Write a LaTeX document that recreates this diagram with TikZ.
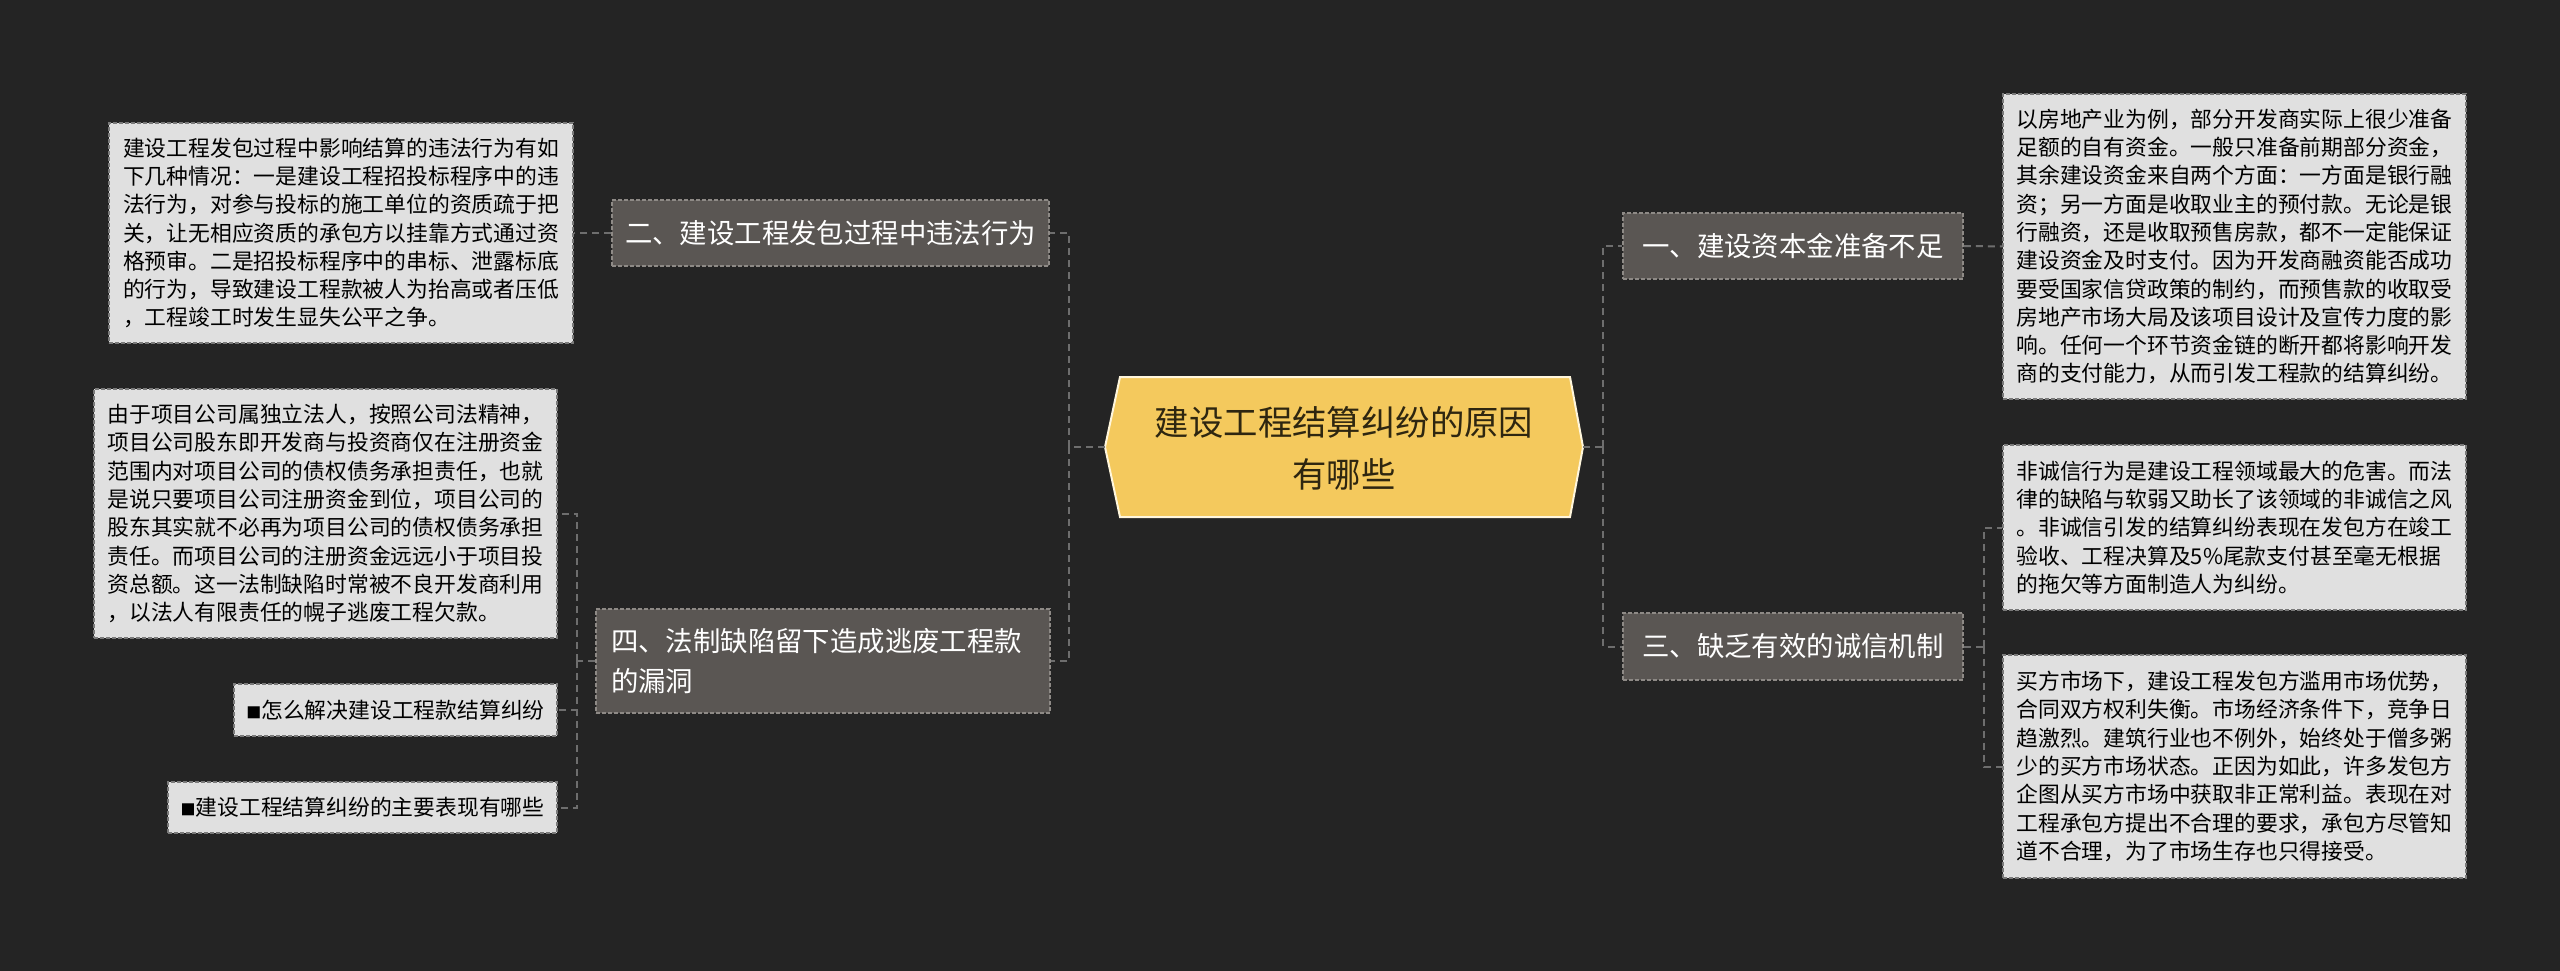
\documentclass[tikz,border=0pt]{standalone}
\usepackage{fontspec}
\newfontfamily\cjk{Noto Sans CJK SC}
\definecolor{bg}{HTML}{242424}
\definecolor{branchfill}{HTML}{5A5653}
\definecolor{branchline}{HTML}{8E8A86}
\definecolor{leaffill}{HTML}{E0E0E0}
\definecolor{leafline}{HTML}{7A7A7A}
\definecolor{conncol}{HTML}{6E6E6E}
\definecolor{centerfill}{HTML}{F4C95D}
\definecolor{centerline}{HTML}{FFF6DC}
\definecolor{centertext}{HTML}{2E2610}
\tikzset{
  leaf/.style={draw=leafline, fill=leaffill, line width=1.5pt, dash pattern=on 4pt off 2pt,
    text=black, font=\cjk\fontsize{21.8}{28.3}\selectfont, align=left, inner sep=0pt},
  branch/.style={draw=branchline, fill=branchfill, line width=1.5pt, dash pattern=on 4pt off 2pt,
    text=white, font=\cjk\fontsize{27.4}{40}\selectfont, align=left, inner sep=0pt},
  conn/.style={draw=conncol, line width=2pt, dash pattern=on 7pt off 5pt},
}
\begin{document}
\begin{tikzpicture}[x=1pt,y=-1pt]
\useasboundingbox (0,0) rectangle (2560,971);
\fill[bg] (0,0) rectangle (2560,971);

% center
\coordinate (cl) at (1105,447);
\coordinate (cr) at (1583,447);
\filldraw[fill=centerfill, draw=centerline, line width=2pt]
  (cl) -- (1120,377) -- (1570,377) -- (cr) -- (1570,517) -- (1120,517) -- cycle;
\node[text=centertext, font=\cjk\fontsize{34.4}{52}\selectfont, align=center, inner sep=0pt]
  (center) at (1344,448) {建设工程结算纠纷的原因\\有哪些};

% branches
\node[branch, minimum width=437pt, minimum height=66pt, align=center] (b2) at (830.5,233) {二、建设工程发包过程中违法行为};
\node[branch, minimum width=454pt, minimum height=104pt, text width=424pt, inner xsep=15pt] (b4) at (823,661) {四、法制缺陷留下造成逃废工程款\\的漏洞};
\node[branch, minimum width=340pt, minimum height=66pt, align=center] (b1) at (1793,246) {一、建设资本金准备不足};
\node[branch, minimum width=340pt, minimum height=67pt, align=center] (b3) at (1793,646.5) {三、缺乏有效的诚信机制};

% leaves
\node[leaf, minimum width=464pt, minimum height=220pt] (la) at (341,233) {建设工程发包过程中影响结算的违法行为有如\\下几种情况：一是建设工程招投标程序中的违\\法行为，对参与投标的施工单位的资质疏于把\\关，让无相应资质的承包方以挂靠方式通过资\\格预审。二是招投标程序中的串标、泄露标底\\的行为，导致建设工程款被人为抬高或者压低\\，工程竣工时发生显失公平之争。};
\node[leaf, minimum width=463pt, minimum height=249pt] (lb) at (325.5,513.5) {由于项目公司属独立法人，按照公司法精神，\\项目公司股东即开发商与投资商仅在注册资金\\范围内对项目公司的债权债务承担责任，也就\\是说只要项目公司注册资金到位，项目公司的\\股东其实就不必再为项目公司的债权债务承担\\责任。而项目公司的注册资金远远小于项目投\\资总额。这一法制缺陷时常被不良开发商利用\\，以法人有限责任的幌子逃废工程欠款。};
\node[leaf, minimum width=323pt, minimum height=52pt, align=center] (lc) at (395.5,710) {{\fontsize{15}{15}\selectfont ■}怎么解决建设工程款结算纠纷};
\node[leaf, minimum width=389pt, minimum height=51pt, align=center] (ld) at (362.5,807.5) {{\fontsize{15}{15}\selectfont ■}建设工程结算纠纷的主要表现有哪些};
\node[leaf, minimum width=463pt, minimum height=305pt] (le) at (2234.5,246.5) {以房地产业为例，部分开发商实际上很少准备\\足额的自有资金。一般只准备前期部分资金，\\其余建设资金来自两个方面：一方面是银行融\\资；另一方面是收取业主的预付款。无论是银\\行融资，还是收取预售房款，都不一定能保证\\建设资金及时支付。因为开发商融资能否成功\\要受国家信贷政策的制约，而预售款的收取受\\房地产市场大局及该项目设计及宣传力度的影\\响。任何一个环节资金链的断开都将影响开发\\商的支付能力，从而引发工程款的结算纠纷。};
\node[leaf, minimum width=463pt, minimum height=165pt] (lf) at (2234.5,527.5) {非诚信行为是建设工程领域最大的危害。而法\\律的缺陷与软弱又助长了该领域的非诚信之风\\。非诚信引发的结算纠纷表现在发包方在竣工\\验收、工程决算及5\%尾款支付甚至毫无根据\\的拖欠等方面制造人为纠纷。};
\node[leaf, minimum width=463pt, minimum height=223pt] (lg) at (2234.5,766.5) {买方市场下，建设工程发包方滥用市场优势，\\合同双方权利失衡。市场经济条件下，竞争日\\趋激烈。建筑行业也不例外，始终处于僧多粥\\少的买方市场状态。正因为如此，许多发包方\\企图从买方市场中获取非正常利益。表现在对\\工程承包方提出不合理的要求，承包方尽管知\\道不合理，为了市场生存也只得接受。};

% junctions
\coordinate (jl) at (1069,447);
\coordinate (jr) at (1603,447);
\coordinate (j4) at (577,661);
\coordinate (j3) at (1984,646.5);

% connectors
\draw[conn] (cl) -- (jl);
\draw[conn] (jl) |- (b2.east);
\draw[conn] (jl) |- (b4.east);
\draw[conn] (cr) -- (jr);
\draw[conn] (jr) |- (b1.west);
\draw[conn] (jr) |- (b3.west);
\draw[conn] (b2.west) -- (la.east);
\draw[conn] (b4.west) -- (j4);
\draw[conn] (j4) |- (lb.east);
\draw[conn] (j4) |- (lc.east);
\draw[conn] (j4) |- (ld.east);
\draw[conn] (b1.east) -- (le.west);
\draw[conn] (b3.east) -- (j3);
\draw[conn] (j3) |- (lf.west);
\draw[conn] (j3) |- (lg.west);
\end{tikzpicture}
\end{document}
